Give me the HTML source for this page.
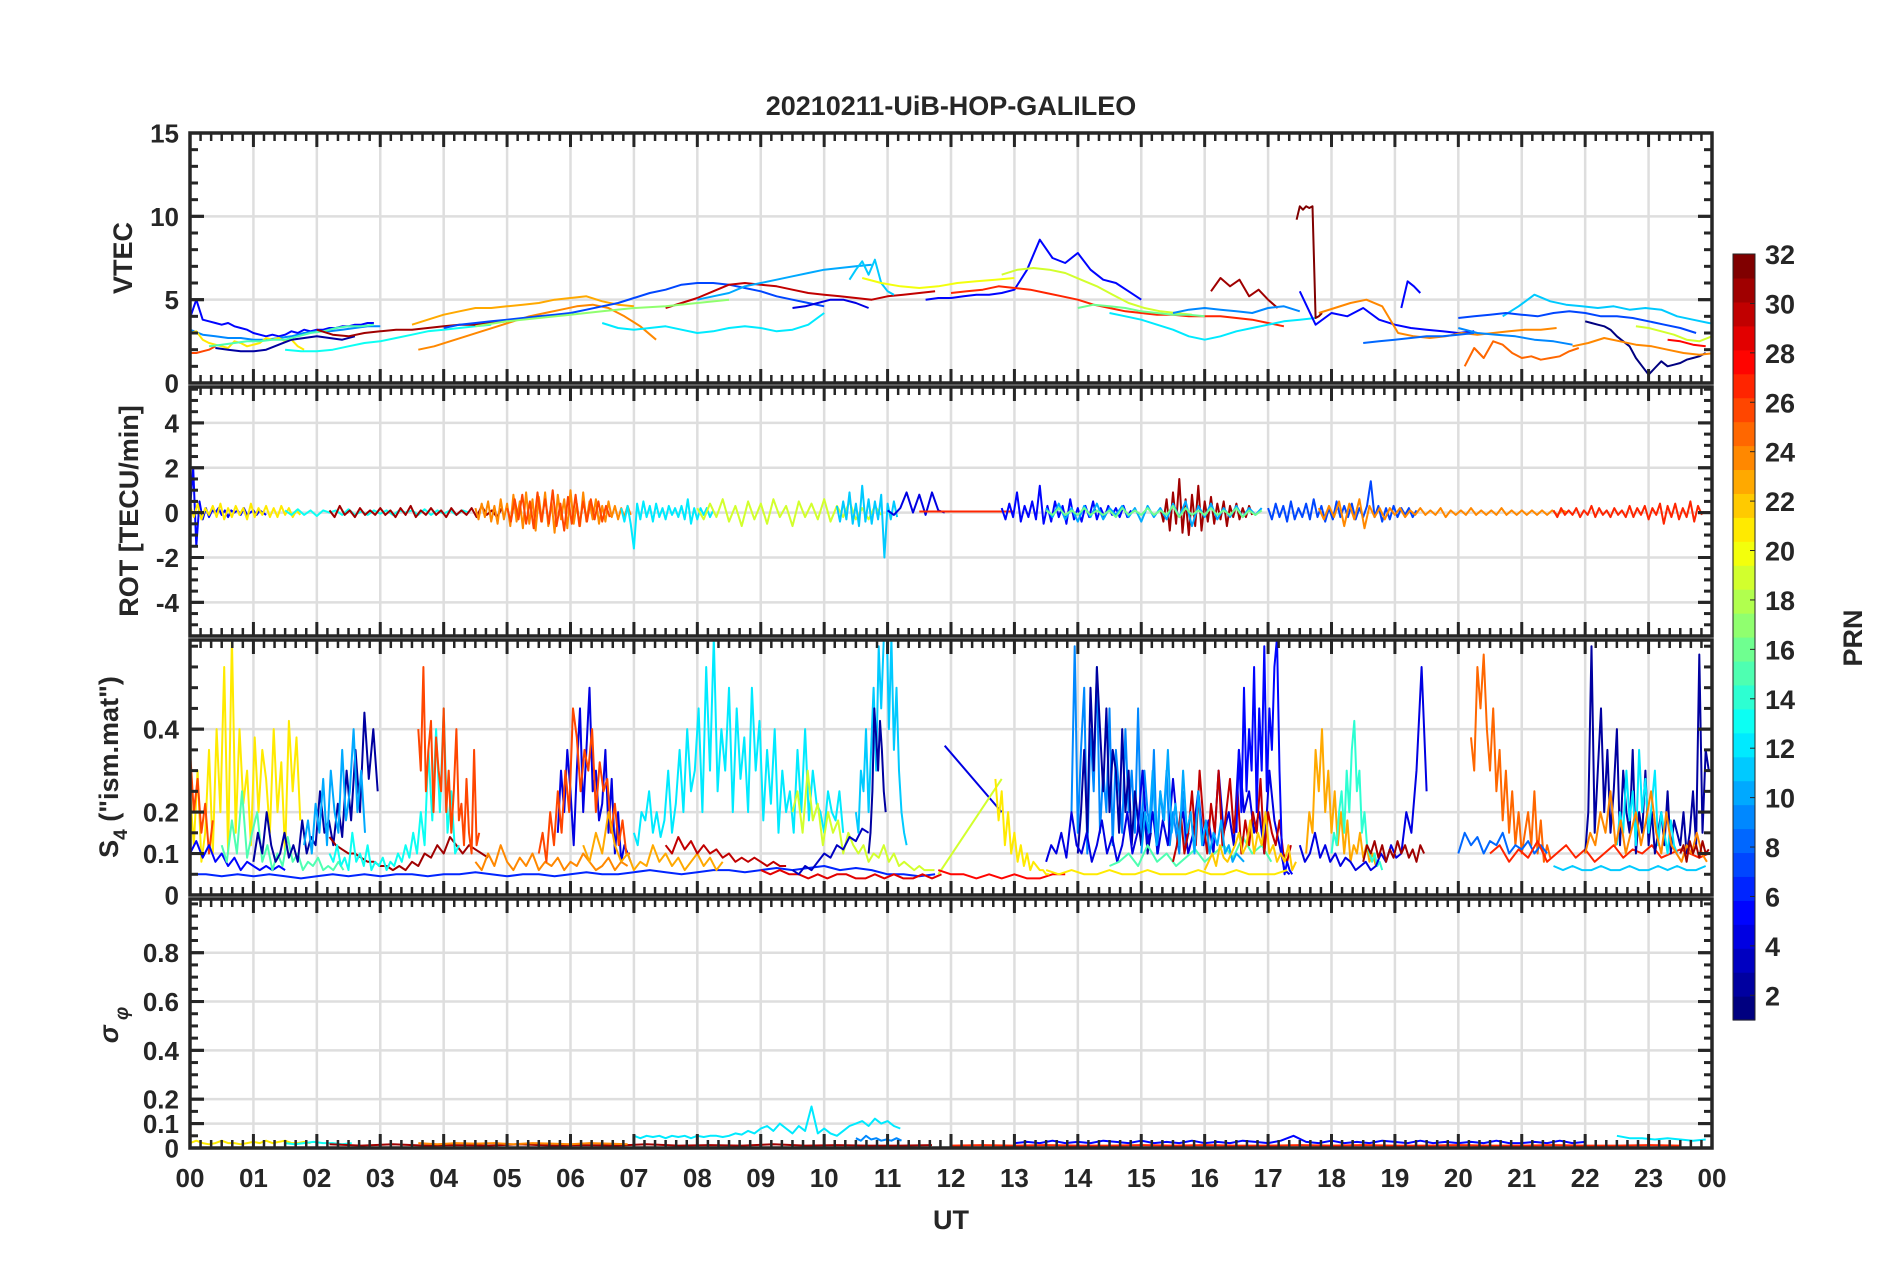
<!DOCTYPE html>
<html><head><meta charset="utf-8">
<style>
html,body{margin:0;padding:0;background:#fff;}
svg{display:block;}
text{font-family:"Liberation Sans",Arial,sans-serif;font-weight:bold;fill:#262626;}
</style></head>
<body>
<svg id="fig" width="1902" height="1272" viewBox="0 0 1902 1272" xmlns="http://www.w3.org/2000/svg">
<rect x="0" y="0" width="1902" height="1272" fill="#fff"/>
<text x="951" y="115" font-size="27" text-anchor="middle">20210211-UiB-HOP-GALILEO</text>
<text x="951" y="1229" font-size="27" text-anchor="middle">UT</text>
<text transform="translate(132,258) rotate(-90)" font-size="27" text-anchor="middle">VTEC</text>
<text transform="translate(138,511) rotate(-90)" font-size="27" text-anchor="middle">ROT [TECU/min]</text>
<text transform="translate(118,767) rotate(-90)" font-size="27" text-anchor="middle">S<tspan font-size="19" dy="9">4</tspan><tspan dy="-9"> ("ism.mat")</tspan></text>
<text transform="translate(118,1025) rotate(-90)" font-size="27" text-anchor="middle" font-style="italic" font-weight="normal">σ<tspan font-size="19" dy="10"> φ</tspan></text>
<g id="panels"></g>
<g id="cbar"></g>
<text transform="translate(1862,638) rotate(-90)" font-size="27" text-anchor="middle">PRN</text>
</svg>
<script>
// ---------- VTEC data ----------
const vtecPrn = [5,9,21,26,2,15,13,31,24,23,7,12,30,10,4,11,20,5,27,19,12,16,31,9,32,5,5,24,8,25,11,7,9,1,24,19,28,17];
const vtecT0  = [0,0,0,0,0.4,0.3,1.5,2.0,3.6,3.5,4.0,6.5,7.5,8.0,9.5,10.4,10.6,11.6,12.0,12.8,14.5,14.0,16.1,15.5,17.45,17.5,19.1,17.8,18.5,20.1,20.7,20.0,20.0,22.0,21.8,22.8,23.3,4.5];
const vtecDt  = [0.1,0.2,0.1,0.1,0.2,0.2,0.25,0.25,0.25,0.25,0.25,0.25,0.25,0.25,0.2,0.1,0.3,0.2,0.25,0.25,0.25,0.25,0.15,0.25,0.05,0.25,0.1,0.25,0.25,0.15,0.25,0.25,0.3,0.1,0.25,0.2,0.2,0.5];
const vtecVals = [
[3.9,5.0,3.8,3.7,3.6,3.5,3.6,3.4,3.3,3.2,3.0,2.9,2.8,2.9,2.8,2.9,3.1,3.0,3.2,3.1,3.2,3.2,3.3,3.3,3.4,3.4,3.5,3.5,3.6,3.6],
[3.2,2.9,2.8,2.7,2.7,2.6,2.6,2.7,2.8,3.0,3.1,3.1,3.2,3.3,3.4,3.4],
[3.0,3.1,2.6,2.4,2.3,2.2,2.1,2.5,2.4,2.2,2.3,2.4,2.7,2.6,2.7,2.5,2.6,2.2,2.0],
[1.8,1.8,1.9,2.0,2.2],
[2.1,2.0,1.9,1.9,2.0,2.3,2.6,2.7,2.8,2.7,2.6,2.8],
[2.2,2.3,2.4,2.5,2.5,2.6,2.6,2.8,3.0,3.1,3.3,3.4,3.4,3.5],
[2.0,1.9,1.9,2.0,2.2,2.4,2.5,2.7,2.9,3.1,3.2,3.3,3.4,3.5],
[3.2,2.9,2.8,3.0,3.1,3.2,3.2,3.3,3.4,3.5,3.5,3.6,3.7],
[2.0,2.2,2.5,2.8,3.1,3.4,3.7,4.0,4.2,4.4,4.6,4.7,4.5,4.0,3.4,2.6],
[3.5,3.8,4.1,4.3,4.5,4.5,4.6,4.7,4.8,5.0,5.1,5.2,4.9,4.7,4.6],
[3.3,3.5,3.6,3.7,3.8,3.9,4.0,4.1,4.2,4.4,4.6,4.8,5.1,5.4,5.6,5.9,6.0,6.0,5.9,5.7,5.5,5.2,5.0,4.8,4.6],
[3.6,3.3,3.2,3.3,3.4,3.2,3.0,3.1,3.3,3.4,3.3,3.1,3.2,3.5,4.2],
[4.5,4.8,5.1,5.5,5.9,6.0,5.9,5.8,5.6,5.4,5.3,5.2,5.1,5.0,5.2,5.3,5.4,5.5],
[5.0,5.2,5.4,5.8,6.0,6.2,6.4,6.6,6.8,6.9,7.0,7.1],
[4.5,4.6,4.8,5.0,5.0,4.8,4.5],
[6.2,6.8,7.3,6.5,7.4,6.0,5.5,5.3],
[6.3,6.0,5.8,5.7,5.8,6.0,6.1,6.2,6.3],
[5.0,5.1,5.1,5.2,5.3,5.3,5.4,5.6,6.8,8.6,7.5,7.2,7.8,6.8,6.2,6.0,5.5,5.0],
[5.4,5.5,5.6,5.8,5.7,5.6,5.4,5.2,5.0,4.7,4.5,4.3,4.2,4.1,4.1,4.0,4.0,4.0,3.9,3.8,3.6,3.4],
[6.5,6.8,6.9,6.8,6.6,6.2,5.8,5.3,4.8,4.5,4.3,4.2,4.1],
[4.2,4.0,3.8,3.5,3.2,2.8,2.6,2.8,3.1,3.3,3.5,3.7,3.8,3.9],
[4.5,4.7,4.6,4.5,4.3,4.2,4.1,4.1,4.0],
[5.5,6.3,5.8,6.2,5.2,5.6,5.0,4.5],
[4.2,4.4,4.5,4.4,4.3,4.2,4.5,4.6,4.3],
[9.8,10.6,10.4,10.6,10.5,10.6,3.9,4.0,4.2],
[5.5,3.5,4.2,4.0,4.5,3.8,3.5,3.3,3.2,3.1,3.0,3.1],
[4.5,6.1,5.8,5.4],
[4.2,4.5,4.8,5.0,4.6,3.0,2.8,2.7,2.8,3.0,2.9,3.0,3.1,3.2,3.2,3.3],
[2.4,2.5,2.6,2.7,2.8,2.8,2.9,3.0],
[1.0,2.1,1.5,2.5,2.3,1.8,1.5,1.6,1.4,1.5,1.6,1.9,2.1],
[4.0,4.6,5.3,4.9,4.7,4.6,4.5,4.6,4.4,4.5,4.4,4.0,3.8,3.6,3.5,3.6,3.5],
[3.9,4.0,4.1,4.2,4.1,4.0,4.2,4.3,4.2,4.0,4.0,3.9,3.7,3.5,3.3,3.0],
[3.3,3.0,2.9,2.8,2.6,2.5,2.3],
[3.7,3.6,3.5,3.4,3.2,2.8,2.5,2.2,1.5,1.0,0.5,0.9,1.3,1.0,1.1,1.2,1.4,1.5,1.6,1.8],
[2.2,2.4,2.7,2.5,2.3,2.2,2.0,1.8,1.7,1.8],
[3.4,3.3,3.1,2.9,2.6,2.5,2.8],
[2.6,2.5,2.3,2.2],
[3.4,3.7,3.9,4.1,4.3,4.5,4.6,4.8,5.0]
];
// ---------- ROT data ----------
const rotPrn = [5,21,13,31,24,12,19,11,4,27,5,31,7,24,27,10,16,26];
const rotT0  = [0,0,1.5,2.2,4.5,6.8,8.0,10.2,11.0,11.5,12.8,15.3,17.0,17.8,21.5,13.5,13.5,5.0];
const rotDt  = [0.05,0.06,0.1,0.08,0.05,0.05,0.1,0.05,0.1,0.25,0.06,0.05,0.06,0.08,0.06,0.1,0.1,0.06];
const rotVals = [
[0.2,2.0,-1.5,0.5,-0.3,0.2,-0.2,0.1,0,0.2,-0.1,0.1,-0.2,0.1,0,0.1,-0.1,0.2,-0.1,0,0.1,-0.1,0.1,0,-0.1],
[0.3,-0.2,0.4,-0.3,0.2,-0.1,0.3,-0.2,0.4,-0.3,0.2,-0.2,0.3,-0.1,0.2,-0.3,0.4,-0.2,0.2,-0.1,0.3,-0.2,0.2,-0.2,0.3,-0.1,0.2,-0.2,0.1,-0.1],
[0.1,-0.1,0.15,-0.1,0.1,-0.15,0.1,0,0.1,-0.1,0.15,-0.1,0.05,-0.1,0.1,-0.05,0.1,-0.1,0.1,0,0.1,-0.1,0.15,-0.1,0.1,-0.05,0.1,-0.1,0.1,0],
[0.1,-0.2,0.3,-0.1,0.1,-0.2,0.2,-0.1,0.1,-0.1,0.2,-0.1,0.1,-0.2,0.2,-0.1,0.3,-0.2,0.1,-0.1,0.2,-0.1,0.1,-0.2,0.2,-0.1,0.1,-0.1,0.2,-0.2,0.3,-0.1,0.1,-0.2,0.2],
[0.2,-0.3,0.4,-0.2,0.5,-0.4,0.3,-0.5,0.6,-0.3,0.4,-0.6,0.8,-0.4,0.5,-0.7,0.9,-0.5,0.6,-0.8,0.7,-0.4,0.9,-0.6,0.5,-0.9,0.8,-0.3,0.6,-0.7,1.0,-0.5,0.4,-0.6,0.9,-0.4,0.5,-0.3,0.6,-0.5,0.3,-0.4,0.5,-0.2,0.3,-0.3,0.2,-0.2,0.3,-0.1],
[0.2,-0.4,0.3,-0.5,-1.6,0.4,-0.3,0.5,-0.2,0.3,-0.4,0.4,-0.2,0.2,-0.3,0.3,-0.1,0.2,-0.2,0.3,-0.3,0.6,-0.5,0.2,-0.3,0.2,-0.1,0.2,-0.2,0.1],
[0.2,-0.3,0.4,-0.2,0.6,-0.4,0.3,-0.6,0.5,-0.3,0.4,-0.5,0.6,-0.2,0.3,-0.6,0.5,-0.2,0.4,-0.3,0.6,-0.4,0.3,-0.2,0.5,-0.3,0.2,-0.3,0.3,-0.1],
[0.3,-0.4,0.5,-0.3,0.9,-0.5,0.4,-0.6,1.2,-0.4,0.6,-0.5,0.5,-0.3,0.8,-2.0,0.4,-0.3,0.5,-0.2],
[0.1,-0.1,0.2,0.9,0,0.8,-0.1,0.9,0.1,0],
[0.05,0.05,0.05,0.05,0.05,0.05,0.05],
[0.2,-0.3,0.4,-0.2,0.9,-0.4,0.3,-0.2,0.5,-0.3,1.2,-0.5,0.3,-0.4,0.5,-0.2,0.3,-0.5,0.6,-0.3,0.2,-0.4,0.3,-0.2,0.5,-0.3,0.2,-0.2,0.3,-0.1,0.2,-0.2,0.3,-0.2,0.1],
[0.2,-0.4,0.6,-0.8,0.9,-0.5,1.5,-0.9,0.6,-1.0,0.8,-0.6,1.2,-0.8,0.5,-0.4,0.7,-0.5,0.4,-0.3,0.5,-0.6,0.3,-0.2,0.4,-0.3,0.2,-0.2,0.3,-0.1],
[0.2,-0.3,0.4,-0.2,0.3,-0.4,0.5,-0.3,0.2,-0.2,0.4,-0.3,0.6,-0.2,0.3,-0.4,0.2,-0.3,0.5,-0.2,0.3,-0.2,0.4,-0.3,0.2,-0.2,0.3,1.4,-0.2,0.3,-0.4,0.2,-0.3,0.3,-0.2,0.2,-0.1,0.2,-0.2,0.1],
[0.2,-0.3,0.3,-0.2,0.5,-0.6,0.4,-0.3,0.6,-0.7,0.3,-0.2,0.2,-0.3,0.2,-0.1,0.2,-0.2,0.1,-0.1,0.2,-0.1,0.1,-0.1,0.2,-0.2,0.1,-0.1,0.1,-0.1,0.2,-0.1,0.1,-0.1,0.1,-0.1,0.2,-0.1,0.1,-0.1,0.1,-0.1,0.1,-0.1,0.1,-0.1,0.1,-0.1,0.1,0],
[0.1,-0.2,0.2,-0.1,0.1,-0.1,0.2,-0.2,0.1,-0.1,0.3,-0.2,0.2,-0.1,0.1,-0.2,0.2,-0.1,0.1,-0.2,0.3,-0.2,0.2,-0.1,0.3,-0.3,0.2,-0.1,0.4,-0.5,0.3,-0.2,0.4,-0.3,0.2,-0.2,0.5,-0.4,0.3,-0.1],
[0.2,-0.2,0.4,-0.3,0.2,-0.4,0.3,-0.2,0.4,-0.3,0.2,-0.1,0.3,-0.2,0.2,-0.4,0.3,-0.2,0.2,-0.3,0.4,-0.2,0.5,-0.6,0.3,-0.2,0.4,-0.3,0.2,-0.2,0.3,-0.2,0.2,-0.1,0.2],
[0.1,-0.1,0.2,-0.1,0.1,-0.1,0.2,-0.1,0.1,-0.1,0.1,-0.2,0.2,-0.1,0.1,-0.1,0.2,-0.1,0.1,-0.1,0.3,-0.2,0.2,-0.1,0.1,-0.1,0.2,-0.1,0.1,-0.1,0.2,-0.2,0.1,-0.1,0.1],
[0.2,-0.4,0.6,-0.3,0.8,-0.5,0.5,-0.7,0.9,-0.4,0.6,-0.5,1.0,-0.6,0.4,-0.8,0.7,-0.5,0.8,-0.6,0.5,-0.4,0.6,-0.3,0.5,-0.4,0.3,-0.2]
];
// ---------- S4 data ----------
const s4Prn = [21,26,5,6,15,2,10,31,13,26,24,4,26,23,12,30,29,19,3,11,2,4,19,28,21,9,2,4,15,30,5,23,14,4,31,25,8,27,2,11,12,24,31,21,10,22];
const s4T0  = [0,0,0,0,0.5,1.0,1.8,2.2,2.2,3.6,4.5,5.8,5.5,6.2,7.0,7.5,9.0,9.5,9.5,10.5,10.7,11.9,11.8,11.8,12.7,13.9,14.0,13.5,14.5,15.5,16.5,17.6,18.0,17.5,18.5,20.2,20.0,20.5,22.0,21.5,22.5,22.0,23.5,13.5,15.0,16.0];
const s4Dt  = [0.06,0.06,0.1,0.25,0.08,0.07,0.06,0.1,0.06,0.04,0.1,0.05,0.06,0.1,0.06,0.1,0.15,0.08,0.1,0.04,0.03,0.9,1.0,0.2,0.05,0.05,0.05,0.08,0.15,0.06,0.04,0.05,0.04,0.08,0.06,0.05,0.1,0.15,0.05,0.15,0.05,0.08,0.05,0.2,0.06,0.06];
const s4Vals = [
[0.25,0.12,0.3,0.08,0.15,0.35,0.1,0.4,0.2,0.55,0.1,0.62,0.15,0.4,0.22,0.3,0.12,0.38,0.2,0.35,0.28,0.15,0.4,0.2,0.32,0.1,0.42,0.25,0.38,0.18],
[0.35,0.2,0.28,0.15,0.22,0.1,0.18],
[0.1,0.13,0.09,0.12,0.08,0.1,0.07,0.09,0.06,0.08,0.07,0.06,0.07,0.06,0.07,0.06],
[0.05,0.05,0.045,0.05,0.045,0.05,0.045,0.04,0.045,0.05,0.045,0.05,0.045,0.05,0.05,0.045,0.05,0.05,0.055,0.05,0.045,0.05,0.05,0.045,0.05,0.055,0.05,0.05,0.055,0.06,0.055,0.05,0.055,0.06,0.06,0.055,0.06,0.065,0.06,0.065,0.07,0.06,0.065,0.06,0.05,0.05,0.045,0.05],
[0.12,0.08,0.18,0.1,0.25,0.09,0.15,0.2,0.08,0.12,0.06,0.1,0.07,0.14,0.08,0.1,0.06,0.08,0.07,0.09,0.06,0.07,0.06,0.08,0.06],
[0.08,0.15,0.1,0.2,0.12,0.08,0.1,0.15,0.09,0.12,0.08,0.18,0.1,0.14,0.12,0.25,0.15,0.18,0.12,0.22,0.14,0.3,0.18,0.35,0.2,0.44,0.28,0.4,0.25],
[0.12,0.18,0.1,0.22,0.15,0.28,0.12,0.3,0.2,0.15,0.35,0.18,0.25,0.4,0.2,0.3,0.15],
[0.14,0.12,0.11,0.1,0.1,0.09,0.08,0.08,0.07,0.07,0.06,0.07,0.06,0.08,0.07,0.1,0.09,0.12,0.1,0.14,0.12,0.1,0.12,0.11,0.1,0.09],
[0.1,0.08,0.12,0.07,0.09,0.06,0.15,0.08,0.1,0.07,0.12,0.06,0.08,0.07,0.09,0.06,0.08,0.07,0.1,0.08,0.12,0.09,0.15,0.1,0.2,0.12,0.35,0.18,0.4,0.2,0.45,0.15,0.25,0.1,0.12],
[0.4,0.3,0.55,0.25,0.35,0.42,0.2,0.38,0.3,0.25,0.45,0.2,0.3,0.15,0.25,0.4,0.18,0.22,0.12,0.28,0.15,0.1,0.35,0.12,0.15],
[0.08,0.06,0.1,0.07,0.12,0.08,0.06,0.09,0.07,0.1,0.06,0.08,0.07,0.09,0.06,0.08,0.07,0.1,0.08,0.06,0.07,0.09,0.06,0.08,0.07],
[0.15,0.3,0.2,0.35,0.25,0.12,0.3,0.45,0.2,0.35,0.5,0.25,0.3,0.18,0.22,0.35,0.15,0.28,0.1,0.2,0.08,0.12,0.1,0.08],
[0.1,0.15,0.08,0.2,0.12,0.25,0.15,0.3,0.2,0.45,0.38,0.25,0.35,0.3,0.4,0.2,0.32,0.25,0.28,0.15,0.22,0.12,0.18,0.1,0.1],
[0.12,0.08,0.15,0.1,0.2,0.12,0.08,0.1,0.06,0.08,0.07,0.12,0.08,0.1,0.07,0.09,0.06,0.08,0.1,0.07,0.09,0.06,0.08],
[0.15,0.12,0.2,0.18,0.25,0.15,0.2,0.14,0.18,0.3,0.15,0.22,0.35,0.2,0.4,0.25,0.3,0.45,0.2,0.55,0.3,0.62,0.25,0.4,0.3,0.5,0.2,0.45,0.28,0.38,0.2,0.5,0.3,0.42,0.18,0.35,0.22,0.4,0.15,0.3,0.2,0.25,0.15,0.35,0.2,0.4,0.18,0.3,0.22,0.2,0.15,0.25,0.2,0.18,0.25,0.15],
[0.12,0.1,0.14,0.11,0.13,0.1,0.12,0.1,0.11,0.09,0.1,0.08,0.09,0.08,0.09,0.08,0.07,0.08,0.07,0.07],
[0.06,0.05,0.06,0.05,0.05,0.04,0.05,0.04,0.05,0.05,0.04,0.04,0.05,0.04,0.05,0.04,0.04,0.05,0.04,0.05],
[0.2,0.25,0.15,0.3,0.18,0.22,0.12,0.2,0.15,0.18,0.1,0.15,0.12,0.1,0.12,0.08,0.1,0.09,0.12,0.08,0.1,0.07,0.08,0.07,0.06,0.07,0.06,0.06,0.06],
[0.06,0.05,0.07,0.06,0.08,0.1,0.09,0.12,0.11,0.14,0.13,0.16,0.15],
[0.2,0.15,0.3,0.25,0.4,0.2,0.35,0.5,0.3,0.6,0.45,0.62,0.7,0.4,0.62,0.35,0.5,0.3,0.2,0.15,0.12],
[0.1,0.15,0.25,0.45,0.38,0.3,0.42,0.35,0.25,0.2],
[0.36,0.2],
[0.05,0.28],
[0.06,0.05,0.05,0.04,0.05,0.04,0.05,0.04,0.04,0.05,0.05],
[0.28,0.18,0.25,0.12,0.2,0.1,0.15,0.08,0.12,0.07,0.1,0.06,0.08,0.07,0.06,0.06,0.05,0.05],
[0.2,0.6,0.15,0.35,0.5,0.1,0.4,0.25,0.55,0.15,0.3,0.2,0.45,0.12,0.35,0.25,0.15,0.4,0.2,0.3,0.15,0.45,0.12,0.3,0.2,0.15,0.35,0.1,0.25,0.18,0.3,0.12,0.2,0.15,0.1,0.25,0.12,0.15],
[0.1,0.2,0.35,0.15,0.5,0.3,0.55,0.4,0.25,0.45,0.2,0.35,0.3,0.15,0.4,0.2,0.3,0.12,0.25,0.18,0.12,0.2,0.1,0.15],
[0.08,0.12,0.1,0.15,0.09,0.2,0.12,0.1,0.15,0.08,0.12,0.18,0.1,0.14,0.08,0.12,0.2,0.1,0.15,0.3,0.12,0.2,0.1,0.18,0.12,0.28,0.15,0.2,0.1,0.15,0.25,0.12,0.18,0.1,0.3,0.15,0.2,0.12,0.35,0.2,0.25,0.15,0.2,0.1,0.3,0.18,0.12,0.06,0.05],
[0.07,0.08,0.1,0.07,0.12,0.08,0.1,0.07,0.09,0.11,0.08,0.1,0.12,0.09,0.14,0.1,0.12,0.08],
[0.08,0.12,0.2,0.1,0.15,0.25,0.12,0.3,0.18,0.1,0.22,0.15,0.3,0.12,0.2,0.28,0.15,0.25,0.1,0.18,0.12,0.2,0.15,0.28,0.1,0.2,0.15,0.12,0.18,0.1,0.08,0.12],
[0.15,0.35,0.2,0.5,0.25,0.4,0.3,0.55,0.2,0.45,0.3,0.6,0.25,0.45,0.35,0.55,0.62,0.3,0.1,0.05,0.08,0.06,0.05],
[0.1,0.2,0.15,0.35,0.25,0.4,0.2,0.3,0.15,0.25,0.12,0.2,0.1,0.18,0.08,0.12,0.1,0.15,0.09,0.12,0.08,0.1,0.07,0.08],
[0.1,0.15,0.12,0.2,0.25,0.15,0.3,0.2,0.35,0.42,0.25,0.3,0.15,0.2,0.12,0.1,0.08,0.1,0.07,0.08,0.06],
[0.12,0.08,0.1,0.15,0.09,0.12,0.08,0.1,0.07,0.09,0.08,0.06,0.07,0.08,0.06,0.07,0.1,0.08,0.12,0.09,0.1,0.2,0.15,0.3,0.55,0.25],
[0.08,0.12,0.1,0.13,0.09,0.12,0.08,0.11,0.09,0.13,0.1,0.12,0.09,0.11,0.08,0.12,0.1],
[0.38,0.3,0.55,0.45,0.58,0.4,0.3,0.45,0.25,0.35,0.18,0.3,0.15,0.25,0.12,0.2,0.1,0.15,0.2,0.12,0.25,0.1,0.18,0.08,0.12,0.09],
[0.1,0.15,0.12,0.14,0.1,0.13,0.12,0.15,0.1,0.12,0.11,0.13,0.1,0.12,0.1],
[0.1,0.12,0.08,0.11,0.09,0.13,0.08,0.1,0.12,0.09,0.11,0.08,0.1,0.12,0.09,0.11,0.1,0.12,0.09,0.1,0.11,0.1,0.09,0.1],
[0.1,0.2,0.6,0.15,0.3,0.45,0.2,0.35,0.15,0.25,0.4,0.12,0.3,0.2,0.15,0.35,0.1,0.2,0.15,0.3,0.12,0.2,0.1,0.15,0.2,0.12,0.25,0.1,0.18,0.15,0.12,0.2,0.1,0.15,0.25,0.12,0.58,0.15,0.35,0.3],
[0.07,0.06,0.07,0.06,0.06,0.07,0.06,0.06,0.07,0.06,0.06,0.07,0.06,0.07,0.06,0.06,0.07],
[0.12,0.2,0.15,0.3,0.18,0.25,0.12,0.35,0.2,0.28,0.15,0.22,0.3,0.12,0.2,0.15,0.1,0.18,0.12,0.1],
[0.1,0.15,0.12,0.2,0.15,0.25,0.12,0.18,0.1,0.15,0.2,0.12,0.18,0.25,0.15,0.1,0.2,0.12,0.1,0.08,0.12,0.1,0.15,0.1,0.08],
[0.1,0.12,0.08,0.13,0.1,0.12,0.09,0.13,0.1,0.11],
[0.06,0.05,0.06,0.05,0.05,0.06,0.05,0.05,0.06,0.05,0.05,0.05,0.06,0.05,0.05,0.06,0.05,0.05,0.05,0.06],
[0.1,0.2,0.15,0.3,0.12,0.25,0.18,0.35,0.15,0.22,0.12,0.3,0.15,0.2,0.1,0.25,0.12,0.18,0.1,0.15,0.12,0.18,0.1,0.12,0.08,0.1,0.09,0.08],
[0.06,0.08,0.1,0.07,0.12,0.09,0.08,0.1,0.12,0.15,0.1,0.12,0.18,0.1,0.15,0.12,0.2,0.1,0.12,0.08,0.1,0.08,0.12,0.06,0.08]
];
// ---------- sigma-phi data ----------
const sigPrn = [21,13,12,31,24,5,12,27,9];
const sigT0  = [0,1.5,7.0,2.2,3.6,13.0,22.5,12.0,10.5];
const sigDt  = [0.1,0.15,0.1,0.5,0.3,0.2,0.2,0.5,0.08];
const sigVals = [
[0.02,0.03,0.02,0.015,0.02,0.03,0.02,0.02,0.015,0.02,0.025,0.02,0.03,0.02,0.025,0.03,0.02,0.02,0.025,0.02],
[0.02,0.015,0.02,0.025,0.02,0.02,0.015,0.02],
[0.05,0.04,0.05,0.045,0.05,0.04,0.05,0.045,0.05,0.04,0.05,0.045,0.05,0.05,0.045,0.05,0.06,0.055,0.07,0.06,0.08,0.09,0.07,0.1,0.08,0.06,0.09,0.07,0.17,0.06,0.08,0.06,0.05,0.07,0.09,0.1,0.11,0.09,0.12,0.1,0.11,0.09,0.08],
[0.015,0.01,0.015,0.01,0.012,0.01,0.015,0.01,0.012,0.01,0.015,0.01,0.012,0.01,0.015,0.01,0.012,0.01,0.01,0.012],
[0.02,0.015,0.02,0.018,0.02,0.015,0.02,0.018,0.015,0.02,0.018,0.015],
[0.02,0.025,0.02,0.03,0.02,0.025,0.02,0.03,0.025,0.02,0.03,0.02,0.025,0.02,0.03,0.02,0.025,0.02,0.03,0.025,0.02,0.03,0.05,0.025,0.02,0.03,0.02,0.025,0.02,0.03,0.025,0.02,0.03,0.02,0.025,0.02,0.025,0.02,0.03,0.02,0.02,0.025,0.02,0.03,0.02,0.025],
[0.05,0.04,0.04,0.035,0.04,0.035,0.03,0.035],
[0.01,0.012,0.01,0.012,0.01,0.01,0.012,0.01,0.012,0.01,0.01,0.012,0.01,0.012,0.01,0.01,0.012,0.01,0.01,0.012,0.01,0.01,0.012,0.01],
[0.04,0.03,0.05,0.035,0.04,0.03,0.035,0.03,0.04,0.03]
];
// ---------- axis ticks ----------
const hourLabels = ["00","01","02","03","04","05","06","07","08","09","10","11","12","13","14","15","16","17","18","19","20","21","22","23","00"];
const vtecTicks = [0,5,10,15];
const rotTicks = [-4,-2,0,2,4];
const s4Ticks = [0,0.1,0.2,0.4];
const sigTicks = [0,0.1,0.2,0.4,0.6,0.8];
const cbTicks = [2,4,6,8,10,12,14,16,18,20,22,24,26,28,30,32];

const NS = "http://www.w3.org/2000/svg";
const X0 = 190, X1 = 1712;
const xs = t => X0 + (t/24)*(X1-X0);
function jet(p){
  const t = (p-1)/31;
  const c = v => Math.round(255*Math.max(0,Math.min(1,v)));
  return "rgb("+c(1.5-Math.abs(4*t-3))+","+c(1.5-Math.abs(4*t-2))+","+c(1.5-Math.abs(4*t-1))+")";
}
function mk(tag, attrs, parent){
  const e = document.createElementNS(NS, tag);
  for (const k in attrs) e.setAttribute(k, attrs[k]);
  parent.appendChild(e); return e;
}
const panelsG = document.getElementById("panels");
function panel(name, top, bot, ymin, ymax, ticks, minorStep, prns, t0s, dts, vals, fmt){
  const g = mk("g", {}, panelsG);
  
  
  const ys = v => bot - (v-ymin)/(ymax-ymin)*(bot-top);
  for (let h=1; h<24; h++) {
    const gl = mk("line", {x1:xs(h),x2:xs(h),y1:top,y2:bot,stroke:"#dedede","stroke-width":2.5}, g);
    
    
  }
  ticks.forEach(v => {
    if (v>ymin && v<ymax) {
      const gl = mk("line", {x1:X0,x2:X1,y1:ys(v),y2:ys(v),stroke:"#dedede","stroke-width":2.5}, g);
      
      
    }
  });
  const cid = "clip-"+name;
  const cp = mk("clipPath", {id:cid}, g);
  mk("rect", {x:X0, y:top, width:X1-X0, height:bot-top}, cp);
  const sg = mk("g", {"clip-path":"url(#"+cid+")"}, g);
  for (let i=0;i<prns.length;i++){
    const pts = vals[i].map((v,j)=> xs(t0s[i]+j*dts[i]).toFixed(1)+","+ys(v).toFixed(1)).join(" ");
    const pl = mk("polyline", {points:pts, fill:"none", stroke:jet(prns[i]), "stroke-width":2, "stroke-linejoin":"round"}, sg);
    
    
  }
  const tk = mk("g", {stroke:"#262626"}, g);
  for (let h=0; h<=24; h++){
    for (let m=0; m<6; m++){
      if (h==24 && m>0) break;
      const x = xs(h+m/6), L = m==0?14:8;
      mk("line", {x1:x,x2:x,y1:bot,y2:bot-L,"stroke-width":m==0?3:2.5}, tk);
      mk("line", {x1:x,x2:x,y1:top,y2:top+L,"stroke-width":m==0?3:2.5}, tk);
    }
  }
  const start = Math.ceil(ymin/minorStep);
  for (let k=start; k*minorStep<=ymax+1e-9; k++){
    const v = k*minorStep, y = ys(v);
    const major = ticks.some(t=>Math.abs(t-v)<1e-6);
    const L = major?14:8;
    mk("line", {x1:X0,x2:X0+L,y1:y,y2:y,"stroke-width":3}, tk);
    mk("line", {x1:X1,x2:X1-L,y1:y,y2:y,"stroke-width":3}, tk);
  }
  ticks.forEach(v => {
    const y = ys(v);
    mk("line", {x1:X0,x2:X0+14,y1:y,y2:y,"stroke-width":3}, tk);
    mk("line", {x1:X1,x2:X1-14,y1:y,y2:y,"stroke-width":3}, tk);
    const tx = mk("text", {x:179, y:y+9.5, "font-size":26, "text-anchor":"end"}, g);
    tx.textContent = fmt(v);
    
    
  });
  const box = mk("rect", {x:X0,y:top,width:X1-X0,height:bot-top,fill:"none",stroke:"#262626","stroke-width":3.5}, g);
  
  
}
panel("vtec", 133, 383, 0, 15, vtecTicks, 1, vtecPrn, vtecT0, vtecDt, vtecVals, v=>String(v));
panel("rot", 387, 636, -5.5, 5.6, rotTicks, 0.5, rotPrn, rotT0, rotDt, rotVals, v=>String(v));
panel("s4", 640, 895, 0, 0.615, s4Ticks, 0.05, s4Prn, s4T0, s4Dt, s4Vals, v=>v===0?"0":String(v));
panel("sigma", 899, 1148, 0, 1.02, sigTicks, 0.05, sigPrn, sigT0, sigDt, sigVals, v=>v===0?"0":String(v));
hourLabels.forEach((lab,i) => {
  const t = mk("text", {x:xs(i), y:1187, "font-size":26, "text-anchor":"middle"}, panelsG);
  t.textContent = lab;
  
  
});
const cb = document.getElementById("cbar");
const CT = 254, CB = 1020, CX = 1733, CW = 22;
const cy = v => CB - (v-1)/31*(CB-CT);
for (let p=1; p<=32; p++){
  const y1 = CB - (p-1)/32*(CB-CT), y2 = CB - p/32*(CB-CT);
  const r = mk("rect", {x:CX, y:y2, width:CW, height:y1-y2+0.6, fill:jet(p)}, cb);
  
  
}
mk("rect", {x:CX,y:CT,width:CW,height:CB-CT,fill:"none",stroke:"#262626","stroke-width":1}, cb);
cbTicks.forEach(v => {
  const y = cy(v);
  mk("line", {x1:CX+CW-5,x2:CX+CW,y1:y,y2:y,stroke:"#262626","stroke-width":1}, cb);
  const t = mk("text", {x:CX+CW+10, y:y+10, "font-size":27}, cb);
  t.textContent = String(v);
  
  
});
</script>
</body></html>
